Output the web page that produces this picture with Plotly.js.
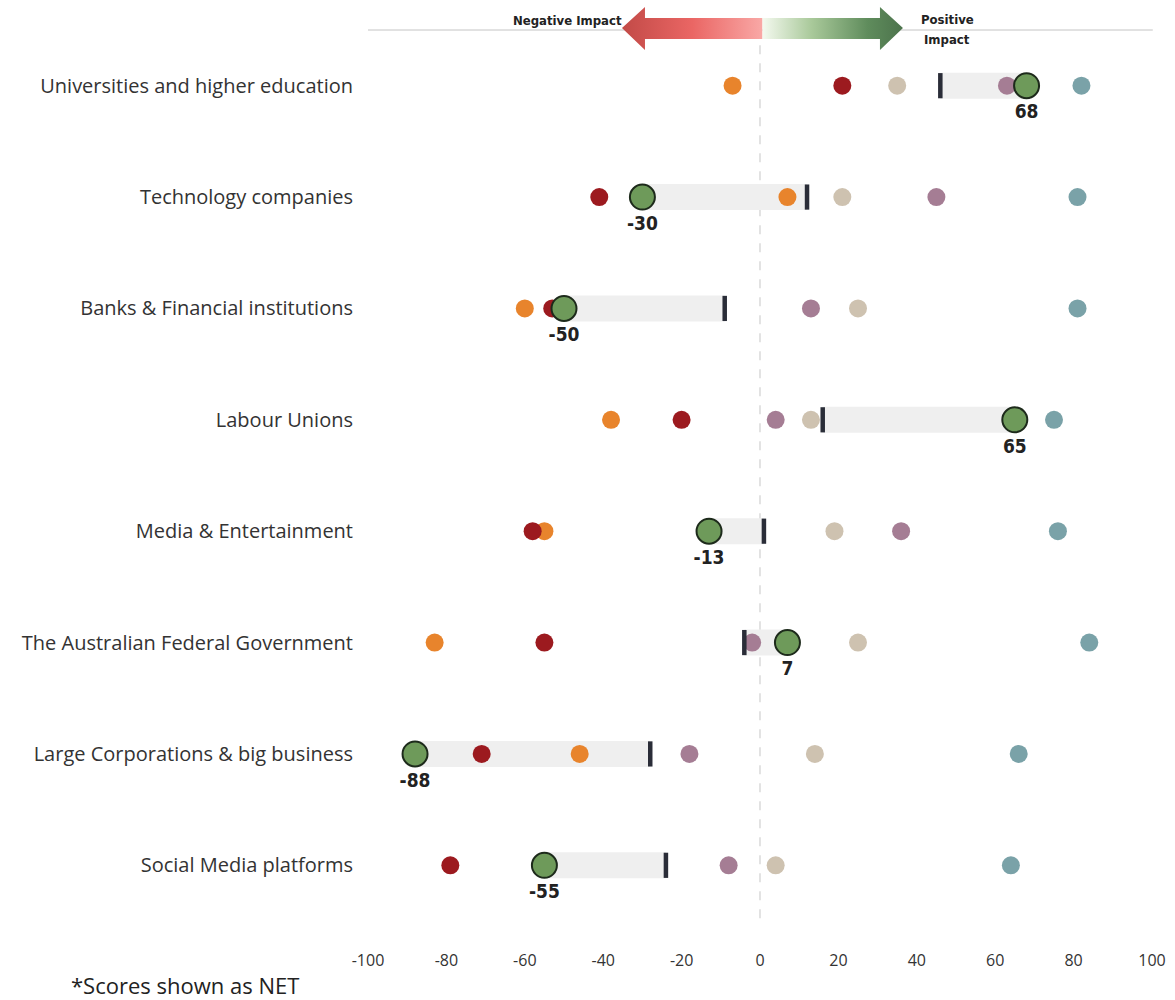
<!DOCTYPE html>
<html>
<head>
<meta charset="utf-8">
<script src="https://cdn.plot.ly/plotly-3.0.1.min.js"></script>
<style>html,body{margin:0;padding:0;background:#fff;}#chart{width:1175px;height:1000px;}</style>
</head>
<body>
<div id="chart"></div>
<script>
// ---- data ----
const categories = [
  "Universities and higher education",
  "Technology companies",
  "Banks & Financial institutions",
  "Labour Unions",
  "Media & Entertainment",
  "The Australian Federal Government",
  "Large Corporations & big business",
  "Social Media platforms"
];
const netScore   = [68, -30, -50, 65, -13, 7, -88, -55];   // green, labelled
const prevScore  = [46, 12, -9, 16, 1, -4, -28, -24];      // dark tick
const seriesOrange = [-7, 7, -60, -38, -55, -83, -46, null];
const seriesRed    = [21, -41, -53, -20, -58, -55, -71, -79];
const seriesBeige  = [35, 21, 25, 13, 19, 25, 14, 4];
const seriesPurple = [63, 45, 13, 4, 36, -2, -18, -8];
const seriesTeal   = [82, 81, 81, 75, 76, 84, 66, 64];
const xTicks = [-100, -80, -60, -40, -20, 0, 20, 40, 60, 80, 100];

// ---- build traces ----
const barX = [], barY = [];
categories.forEach((c, i) => { barX.push(prevScore[i], netScore[i], null); barY.push(c, c, null); });

function dots(vals, color, name) {
  return {
    type: 'scatter', mode: 'markers', name: name, x: vals, y: categories,
    marker: {size: 18, color: color, line: {width: 0}}, hoverinfo: 'x+name', showlegend: false
  };
}

const labelFont = 'Liberation Sans Narrow, DejaVu Sans Condensed, sans-serif';

const traces = [
  {type: 'scatter', mode: 'lines', x: barX, y: barY, line: {color: '#efefef', width: 26},
   hoverinfo: 'skip', showlegend: false, connectgaps: false},
  dots(seriesOrange, '#E8842C', 'Orange'),
  dots(seriesRed, '#9C1A1F', 'Red'),
  dots(seriesBeige, '#CEC2B0', 'Beige'),
  dots(seriesPurple, '#A57D94', 'Purple'),
  dots(seriesTeal, '#7AA2A8', 'Teal'),
  {type: 'scatter', mode: 'markers', x: prevScore, y: categories, name: 'Previous',
   marker: {symbol: 'line-ns', size: 18, line: {width: 4.5, color: '#2a2d38'}}, showlegend: false},
  {type: 'scatter', mode: 'markers', x: netScore, y: categories, name: 'NET',
   marker: {size: 25, color: '#6E9A5A', line: {width: 2, color: '#1d2a1b'}}, showlegend: false},
  {type: 'scatter', mode: 'markers+text', x: netScore, y: categories, name: 'NET label',
   text: netScore.map(v => String(v)), textposition: 'bottom center',
   textfont: {family: labelFont, size: 19, color: '#222', weight: 'bold'},
   marker: {size: 28, color: 'rgba(0,0,0,0)'}, hoverinfo: 'skip', showlegend: false}
];

// ---- header arrow (decoration) ----
const arrowSvg =
  '<svg xmlns="http://www.w3.org/2000/svg" width="285" height="50" viewBox="0 0 285 50">' +
  '<defs>' +
  '<linearGradient id="r" x1="0" y1="0" x2="1" y2="0">' +
  '<stop offset="0" stop-color="#c24a47"/><stop offset="0.5" stop-color="#ea6664"/><stop offset="1" stop-color="#f9a8a6"/></linearGradient>' +
  '<linearGradient id="g" x1="0" y1="0" x2="1" y2="0">' +
  '<stop offset="0" stop-color="#f4f9ef"/><stop offset="0.35" stop-color="#a9c99a"/><stop offset="0.75" stop-color="#5f8c5c"/><stop offset="1" stop-color="#4c734c"/></linearGradient>' +
  '</defs>' +
  '<path d="M2,25 L25,4 L25,15 L142.5,15 L142.5,36 L25,36 L25,47 Z" fill="url(#r)"/>' +
  '<path d="M142.5,15 L260,15 L260,4 L283,25 L260,47 L260,36 L142.5,36 Z" fill="url(#g)"/>' +
  '</svg>';
const arrowUri = 'data:image/svg+xml;base64,' + btoa(arrowSvg);

const layout = {
  width: 1175, height: 1000,
  margin: {l: 368, r: 23, t: 30, b: 79},
  paper_bgcolor: '#fff', plot_bgcolor: '#fff',
  font: {family: 'Open Sans, sans-serif', color: '#333'},
  xaxis: {
    range: [-100, 100], tickvals: xTicks, ticktext: xTicks.map(String),
    showgrid: false, zeroline: false, showline: false,
    ticks: 'outside', ticklen: 25, tickcolor: 'rgba(0,0,0,0)',
    tickfont: {family: 'Open Sans, sans-serif', size: 16, color: '#333'},
    fixedrange: true
  },
  yaxis: {
    type: 'category', categoryorder: 'array', categoryarray: categories,
    range: [7.5, -0.5], showgrid: false, zeroline: false, showline: false,
    ticks: 'outside', ticklen: 10, tickcolor: 'rgba(0,0,0,0)',
    tickfont: {family: 'Open Sans, sans-serif', size: 20, color: '#333'},
    fixedrange: true
  },
  shapes: [
    {type: 'line', xref: 'x', yref: 'paper', x0: 0, x1: 0, y0: 0.003, y1: 0.983,
     line: {color: '#d0d0d0', width: 1.2, dash: 'dash'}, layer: 'below'},
    {type: 'line', xref: 'paper', yref: 'paper', x0: 0, x1: 1.001, y0: 1.0, y1: 1.0,
     line: {color: '#c4c4c4', width: 1}, layer: 'below'}
  ],
  images: [
    {source: arrowUri, xref: 'paper', yref: 'paper', x: 0.3214, y: 1.0303,
     sizex: 0.3635, sizey: 0.0561, sizing: 'stretch', xanchor: 'left', yanchor: 'top', layer: 'above'}
  ],
  annotations: [
    {text: '<b>Negative Impact</b>', xref: 'paper', yref: 'paper', x: 0.326, y: 1.0112,
     xanchor: 'right', yanchor: 'middle', showarrow: false,
     font: {family: labelFont, size: 13, color: '#222'}},
    {text: '<b>Positive</b>', xref: 'paper', yref: 'paper', x: 0.7390, y: 1.0123,
     xanchor: 'center', yanchor: 'middle', showarrow: false,
     font: {family: labelFont, size: 13, color: '#222'}},
    {text: '<b>Impact</b>', xref: 'paper', yref: 'paper', x: 0.7390, y: 0.9888,
     xanchor: 'center', yanchor: 'middle', showarrow: false,
     font: {family: labelFont, size: 13, color: '#222'}},
    {text: '*Scores shown as NET', xref: 'paper', yref: 'paper', x: -0.381, y: -0.072,
     xanchor: 'left', yanchor: 'middle', showarrow: false,
     font: {family: 'Open Sans, sans-serif', size: 22, color: '#222'}}
  ]
};

Plotly.newPlot('chart', traces, layout, {displayModeBar: false, staticPlot: true});
</script>
</body>
</html>
